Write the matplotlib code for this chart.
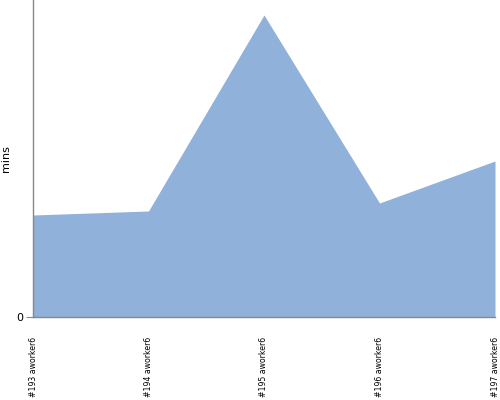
import matplotlib
matplotlib.use("Agg")
import matplotlib.pyplot as plt

# build labels and durations (mins)
builds = ["#193 aworker6", "#194 aworker6", "#195 aworker6", "#196 aworker6", "#197 aworker6"]
mins = [102, 106, 302, 114, 156]

fig = plt.figure(figsize=(5, 4), dpi=100)
ax = fig.add_axes([0.066, 0.2075, 0.924, 0.7925])

x = list(range(len(builds)))
ax.fill_between(x, mins, 0, color="#8FB1DA", linewidth=0)

ax.set_xlim(0, len(builds) - 1)
ax.set_ylim(0, 317)
ax.set_yticks([0])
ax.set_xticks(x)
ax.set_xticklabels(builds, rotation=90, fontsize=5.6,
                   family=["DejaVu Sans Condensed", "Liberation Sans Narrow", "DejaVu Sans"])
ax.tick_params(axis="x", length=0, pad=14)
ax.tick_params(axis="y", length=5, color="#888888", labelsize=8, pad=2)
ax.set_ylabel("mins", fontsize=8, labelpad=4)

for s in ["top", "right"]:
    ax.spines[s].set_visible(False)
for s in ["left", "bottom"]:
    ax.spines[s].set_color("#888888")
    ax.spines[s].set_linewidth(1)

fig.savefig("out.png", dpi=100)
